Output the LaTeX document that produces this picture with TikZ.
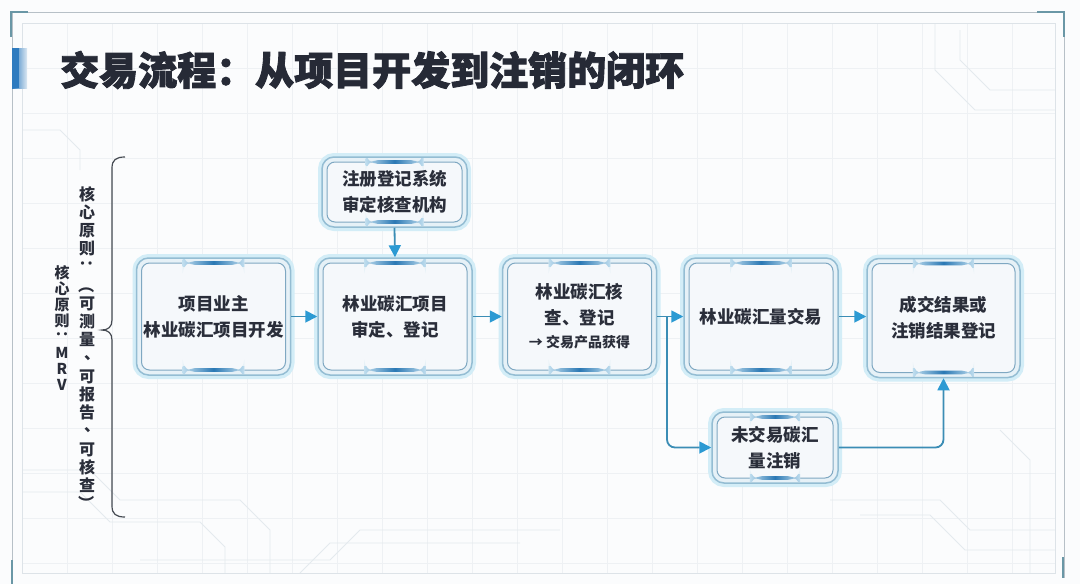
\documentclass[tikz,border=0pt]{standalone}
\usepackage{fontspec}
\setmainfont{Noto Sans CJK SC}
\usetikzlibrary{arrows.meta,calc}
\newcommand\heavytext[2]{\special{pdf:literal direct #1 w 2 Tr}#2\special{pdf:literal direct 0 Tr}}
\newcommand\vrot[1]{\rotatebox[origin=c]{-90}{#1}}
\newcommand\vcomma{\makebox[16pt][c]{\hspace{10pt}\raisebox{5pt}{、}}}
\definecolor{bg}{HTML}{FBFCFD}
\definecolor{gridc}{HTML}{EEF1F4}
\definecolor{tracec}{HTML}{E4EAEE}
\definecolor{framec}{HTML}{B7C0C7}
\definecolor{innerframe}{HTML}{DDE3E8}
\definecolor{accentframe}{HTML}{6A97A6}
\definecolor{txt}{HTML}{2A2E3A}
\definecolor{titlec}{HTML}{262A36}
\definecolor{linec}{HTML}{3B8DB5}
\definecolor{tipc}{HTML}{2C9AD3}
\definecolor{boxedge}{HTML}{94BDD3}
\definecolor{ringfill}{HTML}{E6F1F7}
\definecolor{inneredge}{HTML}{7FA8C2}
\definecolor{innerfill}{HTML}{F5F8FB}
\definecolor{glow}{HTML}{D3EDF7}
\definecolor{accent}{HTML}{2A78B4}
\definecolor{accentl}{HTML}{BFDDEE}
\definecolor{barblue}{HTML}{2E7BBF}
\definecolor{barlight}{HTML}{DCE8F2}
\definecolor{bracec}{HTML}{454A52}
\newcommand\boxfont{\fontsize{17.5}{26}\selectfont\bfseries}
\begin{document}
\begin{tikzpicture}[x=1pt,y=-1pt,
  fbox/.style={draw=boxedge, line width=1.5pt, rounded corners=12pt, fill=ringfill,
    inner sep=0pt, align=center, text=txt, font=\boxfont,
    preaction={draw=glow, line width=8pt},
    path picture={
      \coordinate (pnw) at (path picture bounding box.north west);
      \coordinate (pse) at (path picture bounding box.south east);
      \draw[draw=inneredge, line width=1pt, fill=innerfill, rounded corners=8pt]
        ([xshift=5pt,yshift=-5pt]pnw) rectangle ([xshift=-5pt,yshift=5pt]pse);
      \fill[left color=accentl, right color=accentl, middle color=accent]
        ($(pnw)!0.3!(pnw -| pse) + (0pt,-3.2pt)$) rectangle ($(pnw)!0.7!(pnw -| pse) + (0pt,-6.8pt)$);
      \fill[left color=accentl, right color=accentl, middle color=accent]
        ($(pse -| pnw)!0.3!(pse) + (0pt,3.2pt)$) rectangle ($(pse -| pnw)!0.7!(pse) + (0pt,6.8pt)$);
    }},
  flow/.style={draw=linec, line width=1.8pt, -{Triangle[length=12pt,width=12pt,color=tipc]}},
  vcol/.style={font=\fontsize{16}{18.2}\selectfont\bfseries, text=txt, inner sep=0pt, align=center},
  vcolb/.style={font=\fontsize{15}{15.9}\selectfont\bfseries, text=txt, inner sep=0pt, align=center},
  trace/.style={draw=tracec, line width=0.8pt}
]
\useasboundingbox (0,0) rectangle (1080,584);
% background
\fill[bg] (0,0) rectangle (1080,584);
\foreach \gx in {22,67,...,1055} {\draw[gridc, line width=0.5pt] (\gx,23) -- (\gx,573);}
\foreach \gy in {23,68,...,573} {\draw[gridc, line width=0.5pt] (22,\gy) -- (1055,\gy);}
% faint circuit traces
\draw[trace] (22,470) -- (90,470) -- (120,500) -- (240,500) -- (270,530) -- (270,573);
\draw[trace] (22,492) -- (80,492) -- (110,522) -- (200,522) -- (225,547) -- (225,573);
\draw[trace] (140,560) -- (330,560) -- (360,530) -- (560,530);
\draw[trace] (300,573) -- (330,543) -- (520,543);
\draw[trace] (830,500) -- (940,500) -- (970,530) -- (1055,530);
\draw[trace] (860,515) -- (930,515) -- (965,550) -- (1055,550);
\draw[trace] (1000,430) -- (1030,460) -- (1030,573);
\draw[trace] (960,30) -- (960,60) -- (990,90) -- (1055,90);
\draw[trace] (935,23) -- (935,70) -- (975,110) -- (1055,110);
\draw[trace] (22,130) -- (60,130) -- (80,150) -- (80,170);
% frame
\draw[innerframe, line width=0.8pt] (22,23) rectangle (1055,573);
\draw[framec, line width=1pt] (12,584) -- (12,12) -- (1064,12) -- (1064,578);
\draw[accentframe, line width=2.5pt] (28,12) -- (11,12) -- (11,37);
\draw[accentframe, line width=2.5pt] (1037,12) -- (1064,12) -- (1064,37);
\draw[accentframe, line width=2.5pt] (12,560) -- (12,584);
\draw[accentframe, line width=2.5pt] (1063,557) -- (1063,578);
% title
\shade[left color=barblue, right color=barlight] (12,48) rectangle (27,88);
\fill[barblue] (12,48) rectangle (19,88);
\node[anchor=west, font=\fontsize{39}{39}\selectfont\bfseries, text=titlec, inner sep=0pt] (title) at (60,70) {\heavytext{0.9}{交易流程：从项目开发到注销的闭环}};
% left vertical texts
\node[vcol] (vcola) at (87,349) {核\\心\\原\\则\\\vrot{：}\\\vrot{（}\\可\\测\\量\\\vcomma\\可\\报\\告\\\vcomma\\可\\核\\查\\\vrot{）}};
\node[vcolb] (vcolb) at (62,328) {核\\心\\原\\则\\\vrot{：}\\M\\R\\V};
% brace
\draw[bracec, line width=1.2pt] (125,157) .. controls (116,157) and (112,160) .. (112,168) -- (112,320)
  .. controls (112,327) and (108,330) .. (102,330) .. controls (108,330) and (112,333) .. (112,340)
  -- (112,506) .. controls (112,514) and (116,517) .. (125,517);
% boxes
\node[fbox, minimum width=154pt, minimum height=117pt] (b1) at (213.5,316.5) {项目业主\\林业碳汇项目开发};
\node[fbox, minimum width=154pt, minimum height=117pt] (b2) at (395,316.5) {林业碳汇项目\\审定、登记};
\node[fbox, minimum width=154pt, minimum height=117pt] (b3) at (579.5,316.5) {林业碳汇核\\查、登记\\[-3pt]{\fontsize{14}{18}\selectfont → 交易产品获得}};
\node[fbox, minimum width=154pt, minimum height=117pt] (b4) at (761,316.5) {林业碳汇量交易};
\node[fbox, minimum width=153pt, minimum height=119pt] (b5) at (943.5,318) {成交结果或\\注销结果登记};
\node[fbox, minimum width=145pt, minimum height=70pt] (top) at (394.5,192) {注册登记系统\\审定核查机构};
\node[fbox, minimum width=126pt, minimum height=71pt] (bot) at (775,447.5) {未交易碳汇\\量注销};
% connectors
\draw[flow] (b1.east) -- (b2.west);
\draw[flow] (top.south) -- (b2.north);
\draw[flow] (b2.east) -- (b3.west);
\draw[flow] (b3.east) -- (b4.west);
\draw[flow] (b4.east) -- (b4.east -| b5.west);
\coordinate (br) at (667,316.5);
\draw[flow, rounded corners=8pt] (br) |- (bot.west);
\draw[flow, rounded corners=8pt] (bot.east) -| (b5.south);
\end{tikzpicture}
\end{document}
